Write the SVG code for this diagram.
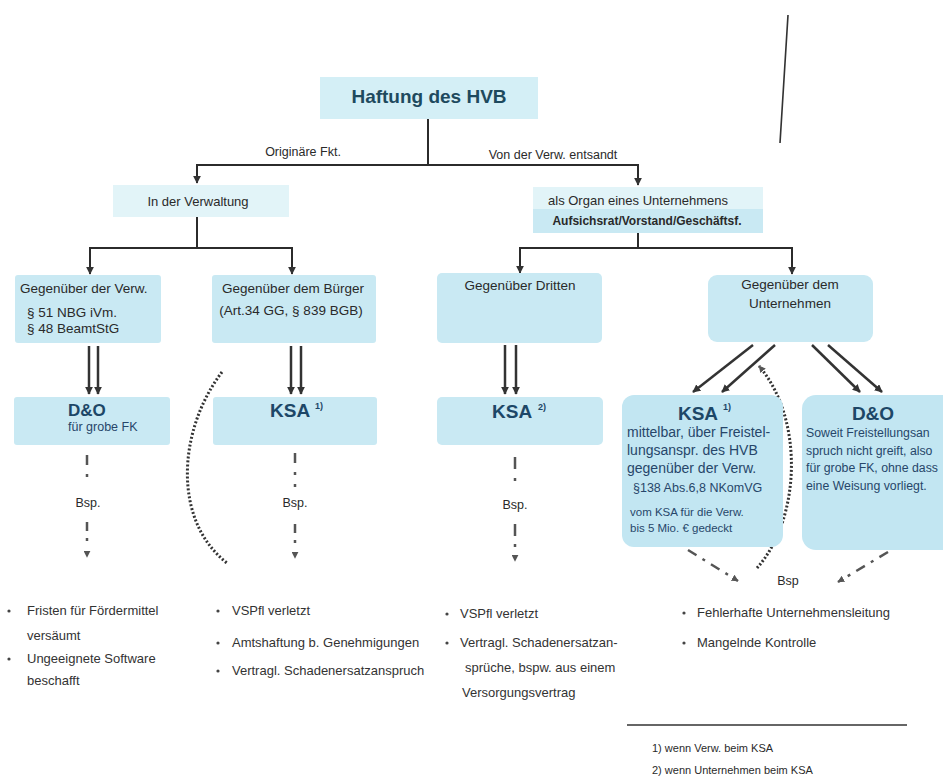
<svg xmlns="http://www.w3.org/2000/svg" width="943" height="776" viewBox="0 0 943 776">
<defs>
<marker id="ah" viewBox="0 0 10 10" refX="9" refY="5" markerWidth="8" markerHeight="8" markerUnits="userSpaceOnUse" orient="auto"><path d="M0,0 L10,5 L0,10 z" fill="#333"/></marker>
<marker id="ahs" viewBox="0 0 10 10" refX="9" refY="5" markerWidth="7" markerHeight="7" markerUnits="userSpaceOnUse" orient="auto"><path d="M0,0 L10,5 L0,10 z" fill="#555"/></marker>
</defs>
<style>
text{font-family:"Liberation Sans",Arial,sans-serif;fill:#2a2a2a}
.box{fill:#c9e9f3}
.pale{fill:#e2f4f8}
.ln{fill:none;stroke:#2b2b2b;stroke-width:2}
.dbl{fill:none;stroke:#333;stroke-width:2.5}
.dd{fill:none;stroke:#555;stroke-width:2.5}
.dot{fill:none;stroke:#333;stroke-width:3;stroke-dasharray:2 2}
.t13{font-size:13.5px}
.t13c{font-size:13.5px;text-anchor:middle}
.lbl{font-size:12.5px;text-anchor:middle}
.ttl{font-size:19px;font-weight:bold;fill:#1d4767}
.sup{font-size:9px;font-weight:bold;fill:#1d4767}
.blu{fill:#27466a}
.li{font-size:13px;fill:#333}
.bul{fill:#444}
</style>

<g id="connectors">
<path class="ln" d="M428,119 V165"/>
<path class="ln" d="M428,165 H197 V183" marker-end="url(#ah)"/>
<path class="ln" d="M428,165 H638 V185" marker-end="url(#ah)"/>
<path class="ln" d="M197,217 V248"/>
<path class="ln" d="M197,248 H90 V274" marker-end="url(#ah)"/>
<path class="ln" d="M197,248 H292 V274" marker-end="url(#ah)"/>
<path class="ln" d="M638,233 V248"/>
<path class="ln" d="M638,248 H520 V273" marker-end="url(#ah)"/>
<path class="ln" d="M638,248 H792 V274" marker-end="url(#ah)"/>
<path class="dbl" d="M89,346 V394" marker-end="url(#ah)"/>
<path class="dbl" d="M98,346 V394" marker-end="url(#ah)"/>
<path class="dbl" d="M291,346 V394" marker-end="url(#ah)"/>
<path class="dbl" d="M301,346 V394" marker-end="url(#ah)"/>
<path class="dbl" d="M505,345 V394" marker-end="url(#ah)"/>
<path class="dbl" d="M516,345 V394" marker-end="url(#ah)"/>
<path class="dbl" d="M753,345 L693,392" marker-end="url(#ah)"/>
<path class="dbl" d="M775,345 L722,392" marker-end="url(#ah)"/>
<path class="dbl" d="M812,345 L860,392" marker-end="url(#ah)"/>
<path class="dbl" d="M828,345 L882,392" marker-end="url(#ah)"/>
<path class="dd" d="M87,455 V478" stroke-dasharray="10 9 3 30"/>
<path class="dd" d="M87,522 V557" stroke-dasharray="9 7 3 30" marker-end="url(#ahs)"/>
<path class="dd" d="M295,453 V490" stroke-dasharray="10 9 3 9 3 30"/>
<path class="dd" d="M295,524 V558" stroke-dasharray="9 7 3 30" marker-end="url(#ahs)"/>
<path class="dd" d="M515,457 V483" stroke-dasharray="12 9 3 30"/>
<path class="dd" d="M515,524 V561" stroke-dasharray="12 8 3 30" marker-end="url(#ahs)"/>
<path class="dd" d="M688,550 L738,581" stroke-dasharray="10 7 3 7" marker-end="url(#ahs)"/>
<path class="dd" d="M888,552 L838,582" stroke-dasharray="10 7 3 7" marker-end="url(#ahs)"/>
<path class="dot" d="M222,372 C178,430 172,520 227,563"/>
<path class="dot" d="M757,568 C800,520 805,420 759,366" marker-end="url(#ahs)"/>
<path d="M788,15 L780,143" fill="none" stroke="#333" stroke-width="1.6"/>
</g>

<g id="n-haftung">
<rect x="320" y="77" width="218" height="42" fill="#d4eff6"/>
<text x="429" y="103" text-anchor="middle" style="font-size:19px;font-weight:bold;fill:#1e4a5e">Haftung des HVB</text>
</g>
<g id="l-originaer"><text class="lbl" x="303" y="156">Originäre Fkt.</text></g>
<g id="l-entsandt"><text class="lbl" x="553" y="159">Von der Verw. entsandt</text></g>

<g id="n-verwaltung">
<rect class="pale" x="113" y="185" width="176" height="32"/>
<text x="198" y="206" style="font-size:13px;text-anchor:middle">In der Verwaltung</text>
</g>

<g id="n-organ">
<rect class="pale" x="533" y="187" width="230" height="22"/>
<rect class="box" x="533" y="209" width="230" height="24"/>
<text x="638" y="205" style="font-size:13px;text-anchor:middle">als Organ eines Unternehmens</text>
<text x="647" y="225" style="font-size:12px;font-weight:bold;text-anchor:middle">Aufsichsrat/Vorstand/Geschäftsf.</text>
</g>

<g id="n-geg-verw">
<rect class="box" x="15" y="275" width="146" height="68" rx="3"/>
<text class="t13" x="20" y="293">Gegenüber der Verw.</text>
<text class="t13" x="27" y="317">§ 51 NBG iVm.</text>
<text class="t13" x="27" y="333">§ 48 BeamtStG</text>
</g>

<g id="n-geg-buerger">
<rect class="box" x="212" y="275" width="164" height="68" rx="3"/>
<text class="t13c" x="293" y="293">Gegenüber dem Bürger</text>
<text class="t13c" x="291" y="315">(Art.34 GG, § 839 BGB)</text>
</g>

<g id="n-geg-dritten">
<rect class="box" x="437" y="273" width="165" height="70" rx="5"/>
<text class="t13c" x="520" y="290">Gegenüber Dritten</text>
</g>

<g id="n-geg-untern">
<rect class="box" x="708" y="275" width="165" height="67" rx="9"/>
<text class="t13c" x="790" y="289">Gegenüber dem</text>
<text class="t13c" x="790" y="308">Unternehmen</text>
</g>

<g id="n-do-left">
<rect class="box" x="14" y="397" width="156" height="48" rx="3"/>
<text class="ttl" x="68" y="416" style="font-size:17px">D&amp;O</text>
<text x="68" y="431" style="font-size:12.5px;fill:#27466a">für grobe FK</text>
</g>

<g id="n-ksa1-left">
<rect class="box" x="213" y="397" width="164" height="48" rx="3"/>
<text class="ttl" x="270" y="417">KSA</text>
<text class="sup" x="315" y="409">1)</text>
</g>

<g id="n-ksa2">
<rect class="box" x="437" y="397" width="166" height="48" rx="5"/>
<text class="ttl" x="492" y="418">KSA</text>
<text class="sup" x="538" y="410">2)</text>
</g>

<g id="n-ksa1-right">
<rect x="622" y="395" width="161" height="152" rx="12" fill="#c2e6f2"/>
<text class="ttl" x="698" y="420" style="text-anchor:middle">KSA</text>
<text class="sup" x="723" y="410">1)</text>
<text class="blu" x="627" y="437" style="font-size:14px">mittelbar, über Freistel-</text>
<text class="blu" x="627" y="455" style="font-size:14px">lungsanspr. des HVB</text>
<text class="blu" x="627" y="473" style="font-size:14px">gegenüber der Verw.</text>
<text class="blu" x="633" y="492" style="font-size:12.5px">§138 Abs.6,8 NKomVG</text>
<text class="blu" x="630" y="516" style="font-size:11.5px">vom KSA für die Verw.</text>
<text class="blu" x="630" y="532" style="font-size:11.5px">bis 5 Mio. € gedeckt</text>
</g>

<g id="n-do-right">
<rect x="802" y="395" width="160" height="155" rx="14" fill="#c2e6f2"/>
<text class="ttl" x="873" y="420" style="text-anchor:middle">D&amp;O</text>
<text class="blu" x="806" y="437" style="font-size:12.3px">Soweit Freistellungsan</text>
<text class="blu" x="806" y="455" style="font-size:12.3px">spruch nicht greift, also</text>
<text class="blu" x="806" y="472" style="font-size:12.3px">für grobe FK, ohne dass</text>
<text class="blu" x="806" y="490" style="font-size:12.3px">eine Weisung vorliegt.</text>
</g>

<g id="l-bsp">
<text class="lbl" x="88" y="507">Bsp.</text>
<text class="lbl" x="295" y="507">Bsp.</text>
<text class="lbl" x="515" y="509">Bsp.</text>
<text class="lbl" x="788" y="585">Bsp</text>
</g>

<g id="list-1">
<circle class="bul" cx="9" cy="611" r="1.6"/>
<text class="li" x="27" y="615">Fristen für Fördermittel</text>
<text class="li" x="27" y="640">versäumt</text>
<circle class="bul" cx="9" cy="659" r="1.6"/>
<text class="li" x="27" y="663">Ungeeignete Software</text>
<text class="li" x="27" y="685">beschafft</text>
</g>

<g id="list-2">
<circle class="bul" cx="218" cy="611" r="1.6"/>
<text class="li" x="232" y="615">VSPfl verletzt</text>
<circle class="bul" cx="218" cy="643" r="1.6"/>
<text class="li" x="232" y="647">Amtshaftung b. Genehmigungen</text>
<circle class="bul" cx="218" cy="671" r="1.6"/>
<text class="li" x="232" y="675">Vertragl. Schadenersatzanspruch</text>
</g>

<g id="list-3">
<circle class="bul" cx="447" cy="614" r="1.6"/>
<text class="li" x="460" y="618">VSPfl verletzt</text>
<circle class="bul" cx="447" cy="643" r="1.6"/>
<text class="li" x="460" y="647">Vertragl. Schadenersatzan-</text>
<text class="li" x="465" y="672">sprüche, bspw. aus einem</text>
<text class="li" x="462" y="697">Versorgungsvertrag</text>
</g>

<g id="list-4">
<circle class="bul" cx="684" cy="613" r="1.6"/>
<text class="li" x="697" y="617">Fehlerhafte Unternehmensleitung</text>
<circle class="bul" cx="684" cy="643" r="1.6"/>
<text class="li" x="697" y="647">Mangelnde Kontrolle</text>
</g>

<g id="footnotes">
<path d="M627,725 H907" stroke="#333" stroke-width="1.5"/>
<text x="652" y="752" style="font-size:11px">1)  wenn Verw. beim KSA</text>
<text x="652" y="774" style="font-size:11px">2)  wenn Unternehmen beim KSA</text>
</g>
</svg>
